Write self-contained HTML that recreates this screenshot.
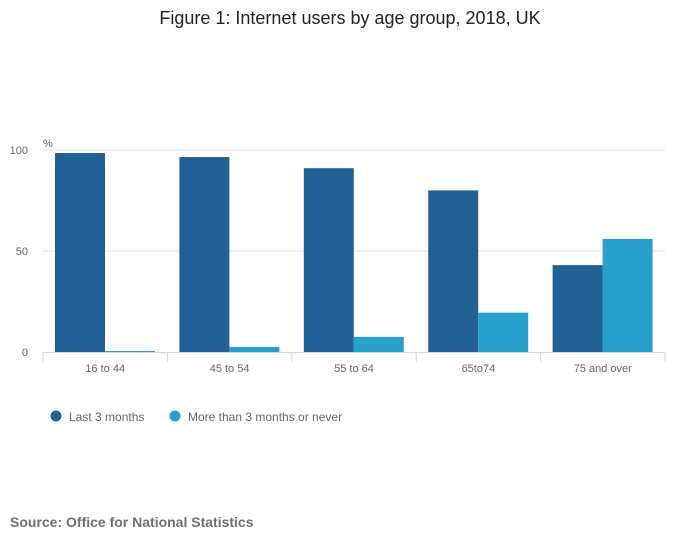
<!DOCTYPE html>
<html><head><meta charset="utf-8"><style>
body{margin:0;background:#fff;font-family:"Liberation Sans","DejaVu Sans",sans-serif;}
svg text{font-family:"Liberation Sans","DejaVu Sans",sans-serif;}
</style></head><body>
<svg id="chart" width="700" height="549" xmlns="http://www.w3.org/2000/svg">
<text x="350" y="24" text-anchor="middle" font-size="18" fill="#222">Figure 1: Internet users by age group, 2018, UK</text>
<text x="10" y="527" font-size="14" font-weight="bold" fill="#707070">Source: Office for National Statistics</text>
<g id="grid"></g><g id="bars"></g><g id="axes"></g>
<g>
<circle cx="56" cy="416" r="5.5" fill="#206095"/>
<text x="69" y="421" font-size="12" fill="#666">Last 3 months</text>
<circle cx="175" cy="416" r="5.5" fill="#27a0cc"/>
<text x="188" y="421" font-size="12" fill="#666">More than 3 months or never</text>
</g>
</svg>
<script>
const categories=["16 to 44","45 to 54","55 to 64","65to74","75 and over"];
const last3Months=[98.5,96.5,91,80,43];
const moreThan3Months=[0.5,2.5,7.5,19.5,56];
const yTicks=[0,50,100];
const NS="http://www.w3.org/2000/svg";
const x0=43,x1=665,y0=352,y100=150;
const band=(x1-x0)/categories.length;
const y=v=>y0-(y0-y100)*v/100;
function mk(tag,attrs,parent){const e=document.createElementNS(NS,tag);for(const k in attrs)e.setAttribute(k,attrs[k]);document.getElementById(parent).appendChild(e);return e;}
yTicks.forEach(t=>{
  if(t>0){const l=mk('line',{x1:x0,x2:x1,y1:y(t),y2:y(t),stroke:'#e0e0e0','stroke-width':1},'grid');
  
  }
  const tx=mk('text',{x:28,y:y(t)+4,'text-anchor':'end','font-size':11,fill:'#666'},'axes');tx.textContent=t;
  
  
});
const pct=mk('text',{x:43,y:147,'font-size':11,fill:'#666'},'axes');pct.textContent='%';


const bw=50;
categories.forEach((c,i)=>{
  const gx=x0+i*band+12;
  const b1=mk('rect',{x:gx,y:y(last3Months[i]),width:bw,height:y0-y(last3Months[i]),fill:'#206095'},'bars');
  
  
  const b2=mk('rect',{x:gx+bw,y:y(moreThan3Months[i]),width:bw,height:y0-y(moreThan3Months[i]),fill:'#27a0cc'},'bars');
  
  
  const lb=mk('text',{x:x0+(i+0.5)*band,y:372,'text-anchor':'middle','font-size':11,fill:'#666'},'axes');lb.textContent=c;
  
  
});
const ax=mk('line',{x1:x0,x2:x1,y1:y0+0.5,y2:y0+0.5,stroke:'#ccd6eb','stroke-width':1},'axes');


for(let i=0;i<=categories.length;i++){
  const tk=mk('line',{x1:x0+i*band,x2:x0+i*band,y1:y0,y2:y0+10,stroke:'#ccd6eb','stroke-width':1},'axes');
  
  
}
</script>
</body></html>
